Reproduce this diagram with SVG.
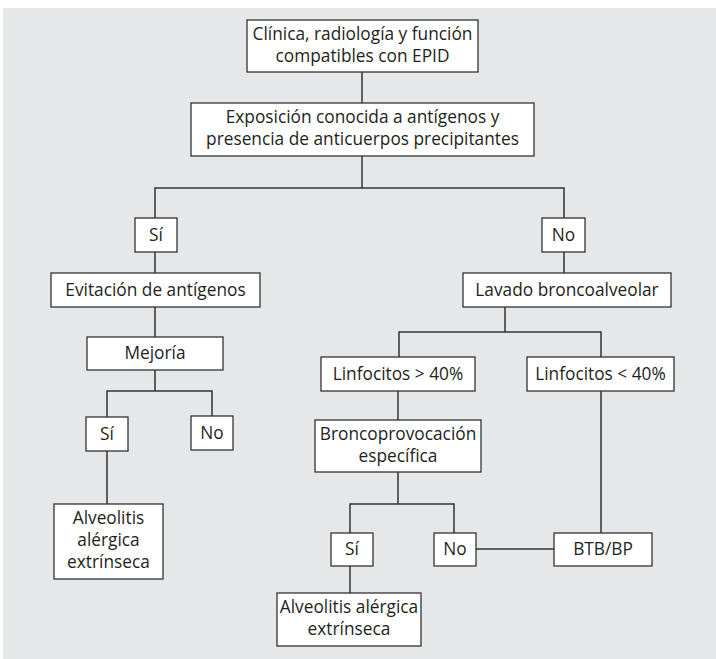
<svg xmlns="http://www.w3.org/2000/svg" width="716" height="659" viewBox="0 0 716 659">
  <style>
    .box rect { fill: #ffffff; stroke: #333333; stroke-width: 1.3; }
    .box text { font-family: "Open Sans", "Noto Sans", "Liberation Sans", sans-serif; font-size: 17.3px; fill: #231f20; text-anchor: middle; }
    #connectors path { fill: none; stroke: #333333; stroke-width: 1.5; }
  </style>

  <!-- panel -->
  <rect x="3" y="8" width="713" height="651" fill="#e6e7e8"/>

  <!-- connectors -->
  <g id="connectors">
    <path d="M362 72 V103"/>
    <path d="M362 156 V188"/>
    <path d="M155 218 V188 H564 V218"/>
    <path d="M155 252 V273"/>
    <path d="M155 307 V337"/>
    <path d="M155 370 V391"/>
    <path d="M107 417 V391 H212 V416"/>
    <path d="M107 451 V504"/>
    <path d="M564 252 V273"/>
    <path d="M505 307 V332"/>
    <path d="M399 357 V332 H601 V357"/>
    <path d="M398 391 V420"/>
    <path d="M398 472 V504"/>
    <path d="M350 533 V504 H454 V533"/>
    <path d="M350 566 V593"/>
    <path d="M476 549 H554"/>
    <path d="M601 391 V533"/>
  </g>

  <g id="n-clinica" class="box">
    <rect x="247" y="20" width="231" height="52"/>
    <text x="362.5" y="39.5">Clínica, radiología y función</text>
    <text x="362.5" y="61.5">compatibles con EPID</text>
  </g>

  <g id="n-exposicion" class="box">
    <rect x="191" y="103" width="343" height="53"/>
    <text x="362.5" y="123">Exposición conocida a antígenos y</text>
    <text x="362.5" y="145">presencia de anticuerpos precipitantes</text>
  </g>

  <g id="n-si1" class="box">
    <rect x="135" y="218" width="42" height="34"/>
    <text x="156" y="240.5">Sí</text>
  </g>

  <g id="n-no1" class="box">
    <rect x="542" y="218" width="43" height="34"/>
    <text x="563.5" y="240.5">No</text>
  </g>

  <g id="n-evitacion" class="box">
    <rect x="51" y="273" width="209" height="34"/>
    <text x="155.5" y="295.5">Evitación de antígenos</text>
  </g>

  <g id="n-lavado" class="box">
    <rect x="463" y="273" width="208" height="34"/>
    <text x="567" y="295.5">Lavado broncoalveolar</text>
  </g>

  <g id="n-mejoria" class="box">
    <rect x="87" y="337" width="136" height="33"/>
    <text x="155" y="359">Mejoría</text>
  </g>

  <g id="n-si2" class="box">
    <rect x="86" y="417" width="42" height="34"/>
    <text x="107" y="439.5">Sí</text>
  </g>

  <g id="n-no2" class="box">
    <rect x="191" y="416" width="42" height="34"/>
    <text x="212" y="438.5">No</text>
  </g>

  <g id="n-alveolitis1" class="box">
    <rect x="54" y="504" width="109" height="75"/>
    <text x="108.5" y="524">Alveolitis</text>
    <text x="108.5" y="546">alérgica</text>
    <text x="108.5" y="568">extrínseca</text>
  </g>

  <g id="n-linf-mayor" class="box">
    <rect x="321" y="357" width="154" height="34"/>
    <text x="398" y="379.5">Linfocitos &gt; 40%</text>
  </g>

  <g id="n-linf-menor" class="box">
    <rect x="527" y="357" width="147" height="34"/>
    <text x="600.5" y="379.5">Linfocitos &lt; 40%</text>
  </g>

  <g id="n-bronco" class="box">
    <rect x="315" y="420" width="166" height="52"/>
    <text x="398" y="439.5">Broncoprovocación</text>
    <text x="398" y="462">específica</text>
  </g>

  <g id="n-si3" class="box">
    <rect x="331" y="533" width="42" height="33"/>
    <text x="352" y="555">Sí</text>
  </g>

  <g id="n-no3" class="box">
    <rect x="434" y="533" width="42" height="33"/>
    <text x="455" y="555">No</text>
  </g>

  <g id="n-btb" class="box">
    <rect x="554" y="533" width="98" height="33"/>
    <text x="603" y="555">BTB/BP</text>
  </g>

  <g id="n-alveolitis2" class="box">
    <rect x="277" y="593" width="144" height="53"/>
    <text x="349" y="613">Alveolitis alérgica</text>
    <text x="349" y="635">extrínseca</text>
  </g>
</svg>
